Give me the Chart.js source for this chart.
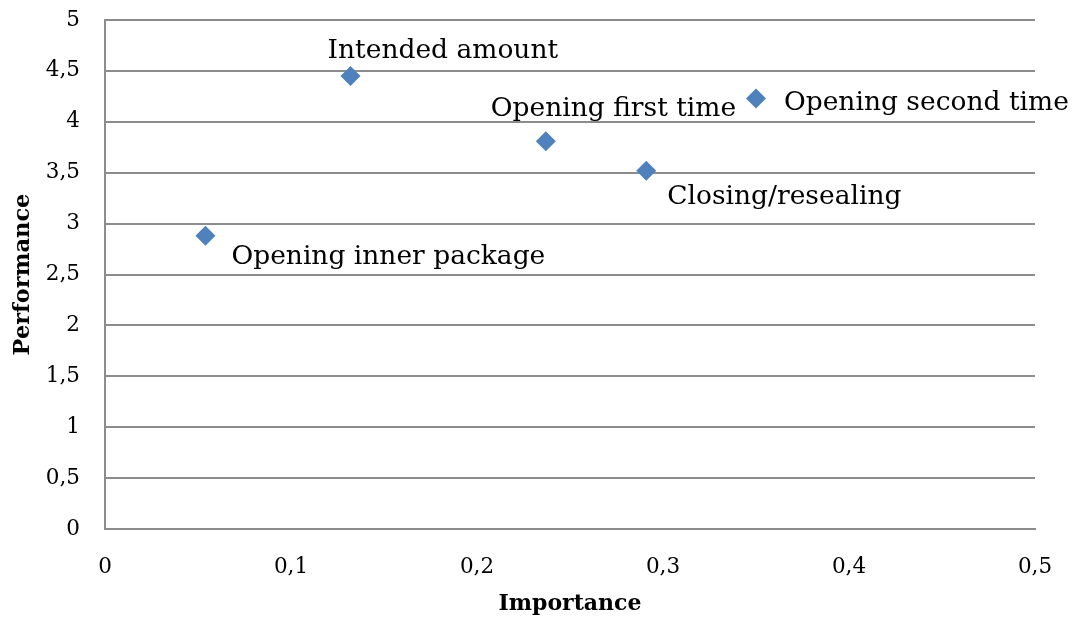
<!DOCTYPE html>
<html>
<head>
<meta charset="utf-8">
<script src="https://cdn.jsdelivr.net/npm/chart.js@4.4.1/dist/chart.umd.min.js"></script>
<style>
  html, body { margin: 0; padding: 0; background: #ffffff; }
  #wrap { width: 1081px; height: 624px; position: relative; }
</style>
</head>
<body>
<div id="wrap"><canvas id="chart"></canvas></div>
<script>
// Attributes of the package: importance (x) against performance (y)
const attributes = [
  'Opening inner package',
  'Intended amount',
  'Opening first time',
  'Closing/resealing',
  'Opening second time'
];
const importance  = [0.054, 0.132, 0.237, 0.291, 0.350];
const performance = [2.88, 4.45, 3.81, 3.52, 4.23];

const xTicks = [0, 0.1, 0.2, 0.3, 0.4, 0.5];
const yTicks = [0, 0.5, 1, 1.5, 2, 2.5, 3, 3.5, 4, 4.5, 5];

// Where each point's name sits relative to its marker (px): dx, dy, alignment
const labelPlacement = [
  { dx: 26,  dy: 21,  align: 'left' },
  { dx: -23, dy: -25, align: 'left' },
  { dx: -55, dy: -32, align: 'left' },
  { dx: 21,  dy: 26,  align: 'left' },
  { dx: 28,  dy: 5,   align: 'left' }
];

const SERIF = '"DejaVu Serif", "Liberation Serif", serif';
const GRID = '#8c8c8c';
const MARKER = '#4f81bd';

const fmt = v => String(v).replace('.', ',');

const pointNames = {
  id: 'pointNames',
  afterDatasetsDraw(chart) {
    const ctx = chart.ctx;
    const meta = chart.getDatasetMeta(0);
    ctx.save();
    ctx.font = '26.5px ' + SERIF;
    ctx.fillStyle = '#000000';
    ctx.textBaseline = 'middle';
    meta.data.forEach((pt, i) => {
      const p = labelPlacement[i];
      ctx.textAlign = p.align;
      ctx.fillText(attributes[i], pt.x + p.dx, pt.y + p.dy);
    });
    ctx.restore();
  }
};

new Chart(document.getElementById('chart'), {
  type: 'scatter',
  data: {
    datasets: [{
      label: 'Attributes',
      data: importance.map((x, i) => ({ x, y: performance[i] })),
      pointStyle: 'rectRot',
      pointRadius: 10,
      pointHoverRadius: 10,
      pointBackgroundColor: MARKER,
      pointBorderColor: MARKER,
      pointBorderWidth: 0
    }]
  },
  options: {
    responsive: true,
    maintainAspectRatio: false,
    animation: false,
    layout: { padding: { top: 20, right: 46, left: 10, bottom: 0 } },
    plugins: {
      legend: { display: false },
      tooltip: { enabled: false }
    },
    scales: {
      x: {
        type: 'linear',
        min: 0, max: 0.5,
        afterBuildTicks: s => { s.ticks = xTicks.map(v => ({ value: v })); },
        afterFit: s => { s.height = 95; s.paddingLeft = 0; s.paddingRight = 0; },
        grid: { display: false, drawTicks: false },
        border: { display: true, color: GRID, width: 2 },
        ticks: {
          color: '#000000',
          padding: 26,
          font: { family: SERIF, size: 21.5 },
          callback: v => fmt(v)
        },
        title: {
          display: true,
          text: 'Importance',
          color: '#000000',
          font: { family: SERIF, size: 22, weight: 'bold' },
          padding: { top: 0, bottom: 7 }
        }
      },
      y: {
        type: 'linear',
        min: 0, max: 5,
        afterBuildTicks: s => { s.ticks = yTicks.map(v => ({ value: v })); },
        afterFit: s => { s.width = 95; s.paddingTop = 0; s.paddingBottom = 0; },
        grid: { color: GRID, lineWidth: 2, drawTicks: false },
        border: { display: true, color: GRID, width: 2 },
        ticks: {
          color: '#000000',
          padding: 25,
          font: { family: SERIF, size: 21.5 },
          callback: v => fmt(v)
        },
        title: {
          display: true,
          text: 'Performance',
          color: '#000000',
          font: { family: SERIF, size: 22.5, weight: 'bold' },
          padding: { top: 0, bottom: 0 }
        }
      }
    }
  },
  plugins: [pointNames]
});
</script>
</body>
</html>
